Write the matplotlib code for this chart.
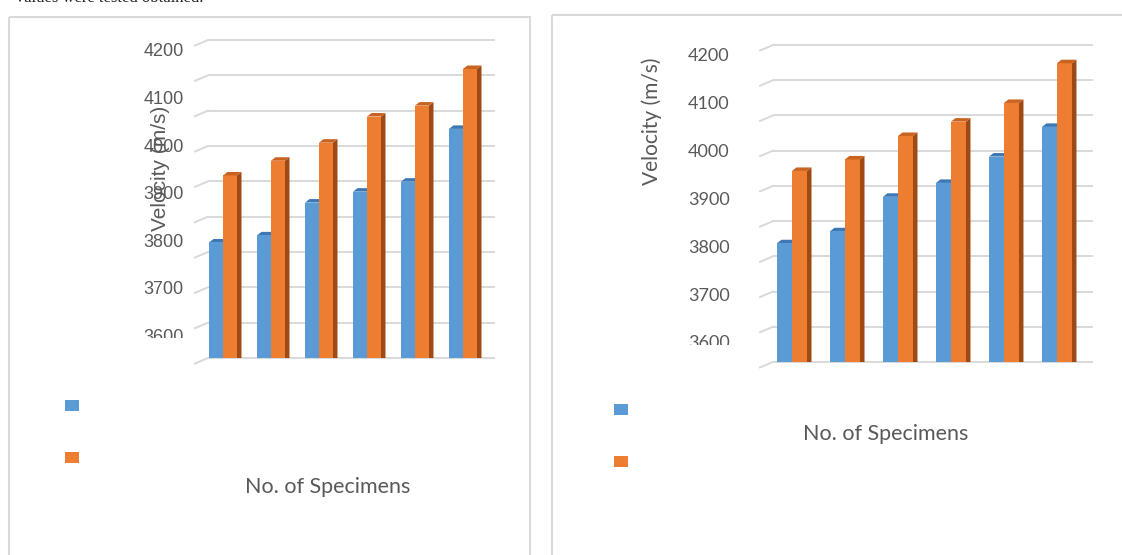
import matplotlib
matplotlib.use("Agg")
import matplotlib.pyplot as plt
from matplotlib.patches import Rectangle, Polygon
from matplotlib.transforms import Bbox, TransformedBbox

W, H, DPI = 1122, 555, 100

# ---------------- data ----------------
specimens = [1, 2, 3, 4, 5, 6]
tick_values = [3600, 3700, 3800, 3900, 4000, 4100, 4200]
left_blue = [3795, 3810, 3879, 3902, 3923, 4034]
left_orange = [3936, 3967, 4005, 4060, 4083, 4160]
right_blue = [3806, 3831, 3903, 3932, 3987, 4049]
right_orange = [3957, 3981, 4030, 4060, 4099, 4182]
y_label = "Velocity (m/s)"
x_label = "No. of Specimens"
caption = "Values were tested obtained."

# ---------------- style ----------------
BLUE, BLUE_TOP = "#5B9BD5", "#3C78B4"
ORANGE, ORANGE_TOP, ORANGE_SIDE = "#ED7D31", "#C9631F", "#9E4A14"
GRID, TEXT = "#D9D9D9", "#595959"

fig = plt.figure(figsize=(W / DPI, H / DPI), dpi=DPI)


def fx(px):
    return px / W


def fy(py):
    return 1 - py / H


overlay = fig.add_axes([0, 0, 1, 1], zorder=0)
overlay.set_xlim(0, W)
overlay.set_ylim(H, 0)
overlay.axis("off")

# caption line cut at top of page
overlay.text(14, 2.5, caption, fontsize=12, color="#222222", va="baseline",
             family="Liberation Serif")

# chart frames
overlay.add_patch(Rectangle((9, 17), 521, 700, fill=False, ec=GRID, lw=1.5))
overlay.add_patch(Rectangle((552, 15), 700, 700, fill=False, ec=GRID, lw=1.5))


def chart(x0, xg, x1, ytop, ybot, ylim, xlim, bw, blue, orange,
          tick_family, tick_size, tick_pad, clip_y, ylab_xy, xlab_xy,
          lab_family, leg_xy):
    # back-wall gridlines with left side-wall stubs
    gax = fig.add_axes([fx(x0), fy(ybot), (x1 - x0) / W, (ybot - ytop) / H], zorder=1)
    gax.set_xlim(0, x1 - x0)
    gax.set_ylim(0, 9)
    gax.axis("off")
    unit = (ybot - ytop) / 9.0
    rise = 5.5 / unit
    for g in range(10):
        gax.plot([xg - x0, x1 - x0], [g, g], color=GRID, lw=1.4,
                 solid_capstyle="butt", clip_on=False)
        gax.plot([0, xg - x0], [g - rise, g], color=GRID, lw=1.4, clip_on=False)

    ax = fig.add_axes([fx(x0), fy(ybot), (x1 - x0) / W, (ybot - ytop) / H], zorder=2)
    ax.patch.set_alpha(0)
    ax.set_xlim(*xlim)
    ax.set_ylim(*ylim)
    for s in ax.spines.values():
        s.set_visible(False)
    ax.set_xticks([])
    ax.set_yticks(tick_values)
    ax.tick_params(axis="y", length=0, pad=tick_pad, labelcolor=TEXT,
                   labelsize=tick_size)
    for lab in ax.get_yticklabels():
        lab.set_family(tick_family)

    pxx = (x1 - x0) / (xlim[1] - xlim[0])
    pxy = (ybot - ytop) / (ylim[1] - ylim[0])
    dx = 4.5 / pxx
    dy = 3.5 / pxy
    xs = [s - 1 for s in specimens]
    ax.bar([x - bw / 2 for x in xs], blue, bw, color=BLUE, zorder=3)
    ax.bar([x + bw / 2 for x in xs], orange, bw, color=ORANGE, zorder=3)
    for x, b, o in zip(xs, blue, orange):
        xl, xr = x - bw, x
        ax.add_patch(Polygon([(xl, b), (xr, b), (xr + dx, b + dy), (xl + dx, b + dy)],
                             closed=True, color=BLUE_TOP, lw=0, zorder=2))
        xl, xr = x, x + bw
        ax.add_patch(Polygon([(xr, ylim[0] - 50), (xr, o), (xr + dx, o + dy),
                              (xr + dx, ylim[0] - 50)],
                             closed=True, color=ORANGE_SIDE, lw=0, zorder=4))
        ax.add_patch(Polygon([(xl, o), (xr, o), (xr + dx, o + dy), (xl + dx, o + dy)],
                             closed=True, color=ORANGE_TOP, lw=0, zorder=4))

    ax.set_ylabel(y_label, fontsize=15, color=TEXT, family=lab_family, va="center")
    ax.yaxis.set_label_coords((ylab_xy[0] - x0) / (x1 - x0),
                              (ybot - ylab_xy[1]) / (ybot - ytop))
    ax.set_xlabel(x_label, fontsize=15.5, color=TEXT, family="Lato", va="center")
    ax.xaxis.set_label_coords((xlab_xy[0] - x0) / (x1 - x0),
                              (ybot - xlab_xy[1]) / (ybot - ytop))

    # legend keys (labels are empty in the source)
    overlay.add_patch(Rectangle((leg_xy[0], leg_xy[1]), 14, 11, color=BLUE, lw=0))
    overlay.add_patch(Rectangle((leg_xy[0], leg_xy[1] + 52), 14, 11, color=ORANGE, lw=0))
    return ax, clip_y


ax_l, clip_l = chart(195, 208, 495, 40, 358, (3552, 4221), (-0.583, 5.667), 14 / 48,
                     left_blue, left_orange, "Liberation Sans", 13, 8, 338,
                     (160, 168), (328, 487), "Liberation Sans", (65, 400))
ax_r, clip_r = chart(760, 773, 1093, 45, 362, (3558, 4220), (-0.604, 5.68), 15 / 53,
                     right_blue, right_orange, "Lato", 13, 22, 345,
                     (652, 121), (886, 434), "Lato", (614, 404))

fig.canvas.draw()
for ax, cy in ((ax_l, clip_l), (ax_r, clip_r)):
    t = ax.yaxis.get_major_ticks()[0].label1
    t.set_clip_box(TransformedBbox(Bbox.from_extents(0, fy(cy), 1, 1), fig.transFigure))
    t.set_clip_on(True)

fig.savefig("out.png", dpi=DPI)
